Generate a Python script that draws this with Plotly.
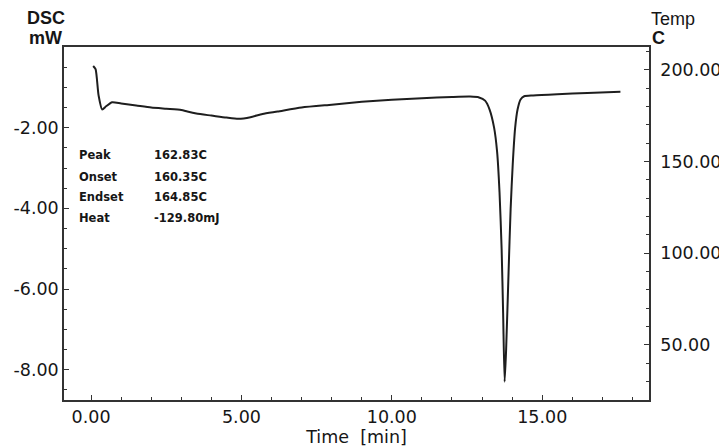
import plotly.graph_objects as go

# DSC curve
time_min = [0.07, 0.15, 0.25, 0.37, 0.5, 0.7, 1.0, 1.5, 2.0, 2.5, 3.0, 3.2, 3.5, 4.0, 4.5, 4.9,
            5.3, 5.7, 6.2, 7.0, 8.0, 9.0, 10.0, 11.0, 12.0, 12.6, 12.9, 13.1, 13.25, 13.4,
            13.5, 13.58, 13.65, 13.7, 13.75, 13.8, 13.88, 13.95, 14.02, 14.1, 14.18, 14.28,
            14.4, 14.7, 15.5, 16.5, 17.6]
dsc_mw = [-0.47, -0.55, -1.2, -1.55, -1.47, -1.37, -1.4, -1.45, -1.5, -1.53, -1.56, -1.6, -1.65,
          -1.7, -1.75, -1.78, -1.74, -1.66, -1.6, -1.5, -1.43, -1.36, -1.31, -1.27, -1.24,
          -1.23, -1.25, -1.33, -1.55, -2.0, -2.6, -3.6, -5.0, -6.6, -8.3, -7.5, -5.6, -4.0,
          -2.9, -2.0, -1.55, -1.3, -1.22, -1.2, -1.17, -1.14, -1.11]

x_ticks = [0, 5, 10, 15]
x_tick_labels = ["0.00", "5.00", "10.00", "15.00"]
y_ticks = [-8, -6, -4, -2]
y_tick_labels = ["-8.00", "-6.00", "-4.00", "-2.00"]
temp_ticks = [50, 100, 150, 200]
temp_tick_labels = ["50.00", "100.00", "150.00", "200.00"]

info_labels = ["Peak", "Onset", "Endset", "Heat"]
info_values = ["162.83C", "160.35C", "164.85C", "-129.80mJ"]

FONT = "Liberation Sans, Arial, sans-serif"
TICKFONT = "DejaVu Sans, sans-serif"
INK = "#161616"

# page offset: the browser body has an 8px margin
OFF = 8
W, H = 727 - OFF, 448 - OFF
PL, PT, PR, PB = 64, 47, 649, 400  # plot box in page pixels
L, T = PL - OFF, PT - OFF
pw, ph = PR - PL, PB - PT
R = W - L - pw
B = H - T - ph


def px(xp):
    return (xp - PL) / pw


def py(yp):
    return (PB - yp) / ph


fig = go.Figure()
fig.add_trace(go.Scatter(x=time_min, y=dsc_mw, mode="lines",
                         line=dict(color="#1e1e1e", width=2, shape="spline", smoothing=0.6),
                         hoverinfo="skip", showlegend=False))
fig.add_trace(go.Scatter(x=[None], y=[None], yaxis="y2", mode="lines", showlegend=False))

ann = []
rows = [155, 177, 197, 218]
for lab, val, yy in zip(info_labels, info_values, rows):
    ann.append(dict(x=px(77), y=py(yy), xref="paper", yref="paper", text=lab, showarrow=False,
                    xanchor="left", yanchor="middle",
                    font=dict(family=TICKFONT, size=11.5, color=INK, weight="bold")))
    ann.append(dict(x=px(152), y=py(yy), xref="paper", yref="paper", text=val, showarrow=False,
                    xanchor="left", yanchor="middle",
                    font=dict(family=TICKFONT, size=11.5, color=INK, weight="bold")))

ann.append(dict(x=px(66), y=py(18), xref="paper", yref="paper", text="DSC", showarrow=False, borderpad=0,
                xanchor="right", yanchor="middle", font=dict(family=FONT, size=18, color=INK, weight="bold")))
ann.append(dict(x=px(63), y=py(38), xref="paper", yref="paper", text="mW", showarrow=False, borderpad=0,
                xanchor="right", yanchor="middle", font=dict(family=FONT, size=18, color=INK, weight="bold")))
ann.append(dict(x=px(650), y=py(19), xref="paper", yref="paper", text="Temp", showarrow=False, borderpad=0,
                xanchor="left", yanchor="middle", font=dict(family=FONT, size=18, color=INK)))
ann.append(dict(x=px(651), y=py(38), xref="paper", yref="paper", text="C", showarrow=False, borderpad=0,
                xanchor="left", yanchor="middle", font=dict(family=FONT, size=18, color=INK, weight="bold")))

axis_common = dict(ticks="inside", ticklen=5, tickcolor="#333", showgrid=False, zeroline=False,
                   showline=True, linecolor="#333", linewidth=1.5, automargin=False,
                   tickfont=dict(family=TICKFONT, size=17.5, color=INK))

fig.update_layout(
    width=W, height=H,
    margin=dict(l=L, r=R, t=T, b=B, autoexpand=False),
    paper_bgcolor="white", plot_bgcolor="white",
    font=dict(family=TICKFONT, size=17, color=INK),
    xaxis=dict(range=[-0.9, 18.55], tickvals=x_ticks, ticktext=x_tick_labels, mirror=True,
               minor=dict(dtick=1, ticks="inside", ticklen=3, tickcolor="#333", showgrid=False),
               title=dict(text="Time  [min]", font=dict(family=TICKFONT, size=17.5, color=INK), standoff=4),
               **axis_common),
    yaxis=dict(range=[-8.75, 0], tickvals=y_ticks, ticktext=y_tick_labels, mirror=False,
               minor=dict(dtick=0.5, ticks="inside", ticklen=3, tickcolor="#333", showgrid=False),
               **axis_common),
    yaxis2=dict(range=[20, 212.5], tickvals=temp_ticks, ticktext=temp_tick_labels,
                overlaying="y", side="right", ticklabelstandoff=6,
                minor=dict(dtick=10, ticks="inside", ticklen=3, tickcolor="#333", showgrid=False),
                **axis_common),
    annotations=ann,
)

fig.write_html("out.html")
